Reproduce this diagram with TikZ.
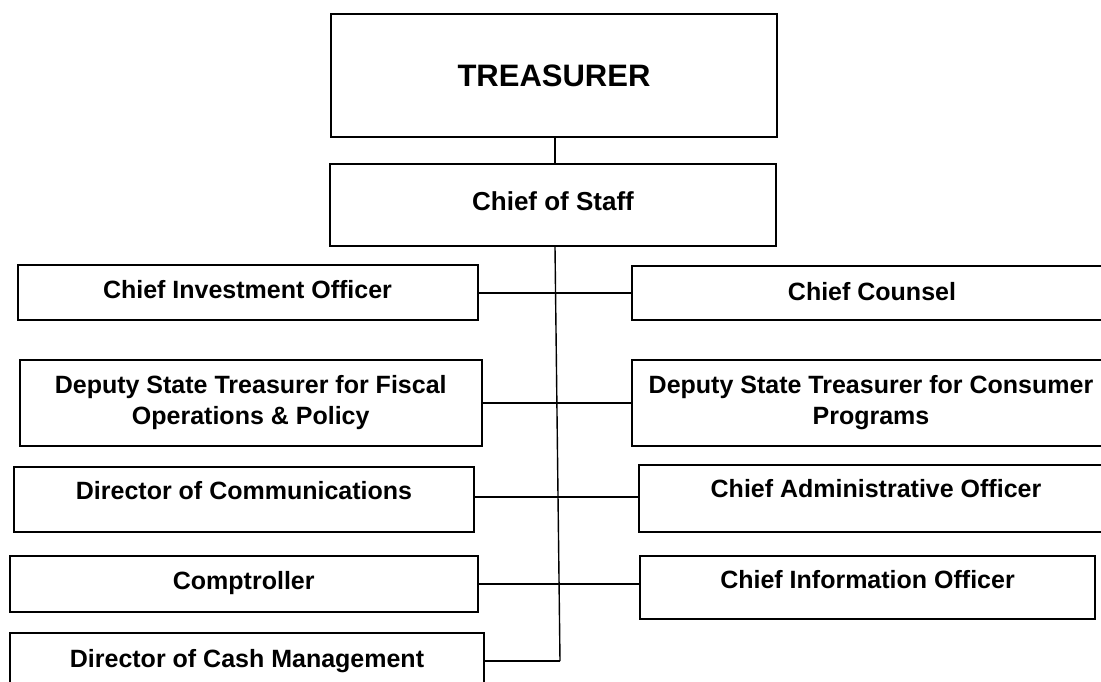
\documentclass[tikz,border=0pt]{standalone}
\usepackage{fontspec}
\setmainfont{Liberation Sans}
\begin{document}
\begin{tikzpicture}[x=1pt,y=-1pt,
  box/.style={draw, line width=2pt, inner sep=0pt, align=center,
    font=\bfseries\fontsize{25}{31}\selectfont},
  capped/.style={text height=17.9pt, text depth=#1},
  capped/.default=0pt,
  link/.style={line width=2pt},
  trunk/.style={line width=1.4pt}]
\useasboundingbox (0,0) rectangle (1101,681);
\clip (0,0) rectangle (1101,681);
\fill[white] (0,0) rectangle (1101,681);

\node[box, minimum width=446pt, minimum height=123pt,
  font=\bfseries\fontsize{31}{37}\selectfont, text height=22.2pt, text depth=0pt]
  (tr) at (554,75.5) {TREASURER};
\node[box, capped=6.6pt, minimum width=446pt, minimum height=82pt,
  font=\bfseries\fontsize{26}{31}\selectfont]
  (cos) at (553,205) {Chief of Staff};

\node[box, capped=5pt, minimum width=460pt, minimum height=55pt]
  (cio) at (247.5,292.5) {Chief Investment Officer};
\node[box, capped=3pt, minimum width=480pt, minimum height=54pt]
  (cc) at (872,293) {Chief Counsel};

\node[box, minimum width=462.5pt, minimum height=86pt]
  (dsf) at (250.75,403) {Deputy State Treasurer for Fiscal\\Operations \& Policy};
\node[box, minimum width=478pt, minimum height=86pt]
  (dsc) at (871,403) {Deputy State Treasurer for Consumer\\Programs};

\node[box, capped=17pt, minimum width=460pt, minimum height=65pt]
  (doc) at (244,499.5) {Director of Communications};
\node[box, capped=19pt, minimum width=474pt, minimum height=67pt]
  (cao) at (876,498.5) {Chief Administrative Officer};

\node[box, capped=6pt, minimum width=467.5pt, minimum height=56pt]
  (comp) at (243.75,584) {Comptroller};
\node[box, capped=15pt, minimum width=455pt, minimum height=63pt]
  (cinfo) at (867.5,587.5) {Chief Information Officer};

\node[box, capped=4pt, minimum width=474pt, minimum height=56pt]
  (dcm) at (247,661) {Director of Cash Management};

\coordinate (trunkend) at (560,661);

\draw[trunk] ([xshift=1pt]tr.south) -- ([xshift=1pt]tr.south |- cos.north);
\draw[trunk] ([xshift=1pt]tr.south |- cos.south) -- (trunkend);
\draw[link] (cio.east) -- (cio.east -| cc.west);
\draw[link] (dsf.east) -- (dsc.west);
\draw[link] ([yshift=2.5pt]doc.east) -- ([yshift=2.5pt]doc.east -| cao.west);
\draw[link] (comp.east) -- (comp.east -| cinfo.west);
\draw[link] (dcm.east) -- (trunkend);
\end{tikzpicture}
\end{document}
